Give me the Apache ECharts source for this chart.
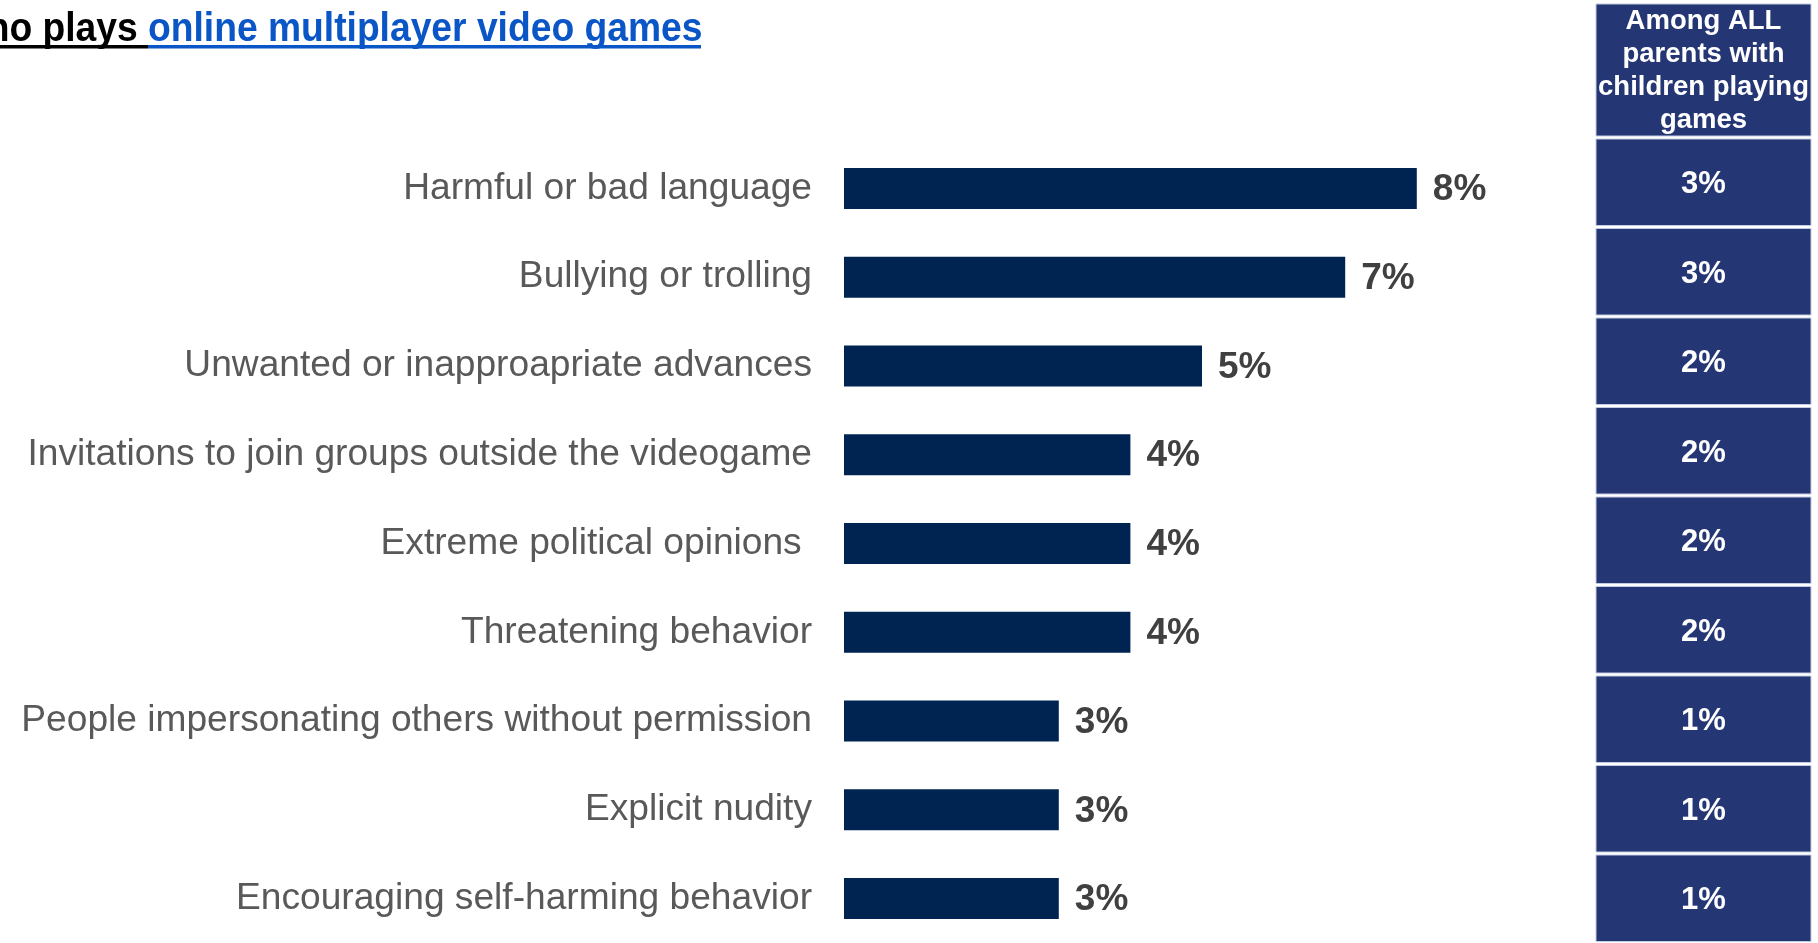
<!DOCTYPE html>
<html>
<head>
<meta charset="utf-8">
<script src="https://cdn.jsdelivr.net/npm/echarts@6/dist/echarts.min.js"></script>
<style>
  html, body { margin: 0; padding: 0; background: #ffffff; }
  #chart { width: 1818px; height: 943px; }
</style>
</head>
<body>
<div id="chart"></div>
<script>
// Issues encountered in online multiplayer games
const categories = [
  'Harmful or bad language',
  'Bullying or trolling',
  'Unwanted or inapproapriate advances',
  'Invitations to join groups outside the videogame',
  'Extreme political opinions ',
  'Threatening behavior',
  'People impersonating others without permission',
  'Explicit nudity',
  'Encouraging self-harming behavior'
];
// Share among parents whose child plays online multiplayer games (%)
const multiplayerShare = [8, 7, 5, 4, 4, 4, 3, 3, 3];
// Share among all parents with children playing games (%)
const allParentsShare = [3, 3, 2, 2, 2, 2, 1, 1, 1];

const titleLead = 'who plays ';
const titleLink = 'online multiplayer video games';
const columnHeader = 'Among ALL\nparents with\nchildren playing\ngames';

const FONT = '"Liberation Sans", Arial, Helvetica, sans-serif';
const BAR_COLOR = '#002452';
const CELL_COLOR = '#253675';

const chart = echarts.init(document.getElementById('chart'), null, { renderer: 'canvas' });

chart.setOption({
  animation: false,
  backgroundColor: '#ffffff',
  grid: [
    { left: 844, top: 144.1, width: 716, height: 804.6, containLabel: false },
    { left: 1596, top: 137.5, width: 215, height: 811.8, containLabel: false }
  ],
  xAxis: [
    { type: 'value', gridIndex: 0, min: 0, max: 10, show: false },
    { type: 'value', gridIndex: 1, min: 0, max: 5, show: false }
  ],
  yAxis: [
    {
      type: 'category', gridIndex: 0, data: categories, inverse: true,
      axisLine: { show: false }, axisTick: { show: false }, splitLine: { show: false },
      axisLabel: {
        interval: 0, margin: 32, fontSize: 37.15, color: '#595959', fontFamily: FONT
      }
    },
    {
      type: 'category', gridIndex: 1, data: categories, inverse: true, show: false
    }
  ],
  series: [
    {
      type: 'bar',
      xAxisIndex: 0, yAxisIndex: 0,
      data: multiplayerShare,
      barWidth: 41,
      itemStyle: { color: BAR_COLOR },
      label: {
        show: true, position: 'right', distance: 16,
        formatter: '{c}%', fontSize: 37, fontWeight: 'bold',
        color: '#404040', fontFamily: FONT, offset: [0, 1.5]
      }
    },
    {
      type: 'custom',
      xAxisIndex: 1, yAxisIndex: 1,
      data: allParentsShare.map((v, i) => [i, v]),
      encode: { y: 0, x: 1 },
      renderItem: function (params, api) {
        const idx = api.value(0);
        const center = api.coord([0, idx]);
        const band = api.size([0, 1])[1];
        const cs = params.coordSys;
        const top = center[1] - band / 2 + 1.5;
        return {
          type: 'group',
          children: [
            {
              type: 'rect',
              shape: { x: cs.x, y: top, width: cs.width, height: band - 3 },
              style: { fill: CELL_COLOR, stroke: '#c3cbe0', lineWidth: 1 }
            },
            {
              type: 'text',
              x: cs.x + cs.width / 2,
              y: center[1] + 2.5,
              style: {
                text: api.value(1) + '%',
                fill: '#ffffff',
                font: 'bold 31px ' + FONT,
                align: 'center',
                verticalAlign: 'middle'
              }
            }
          ]
        };
      }
    }
  ],
  graphic: [
    {
      type: 'text', x: 148, y: 29.5, scaleX: 0.908,
      style: {
        text: titleLead, fill: '#000000', font: 'bold 41px ' + FONT,
        align: 'right', verticalAlign: 'middle'
      }
    },
    {
      type: 'text', x: 148, y: 29.5, scaleX: 0.908,
      style: {
        text: titleLink, fill: '#0a56c6', font: 'bold 41px ' + FONT,
        align: 'left', verticalAlign: 'middle'
      }
    },
    { type: 'rect', shape: { x: 0, y: 45, width: 148, height: 3.5 }, style: { fill: '#000000' } },
    { type: 'rect', shape: { x: 148, y: 45, width: 553, height: 3.5 }, style: { fill: '#0a56c6' } },
    {
      type: 'rect', shape: { x: 1596, y: 4, width: 215, height: 132 },
      style: { fill: CELL_COLOR, stroke: '#c3cbe0', lineWidth: 1 }
    },
    {
      type: 'text', x: 1703.5, y: 5,
      style: {
        text: columnHeader, fill: '#ffffff', font: 'bold 27.5px ' + FONT,
        lineHeight: 33, align: 'center', verticalAlign: 'top'
      }
    }
  ]
});
</script>
</body>
</html>
